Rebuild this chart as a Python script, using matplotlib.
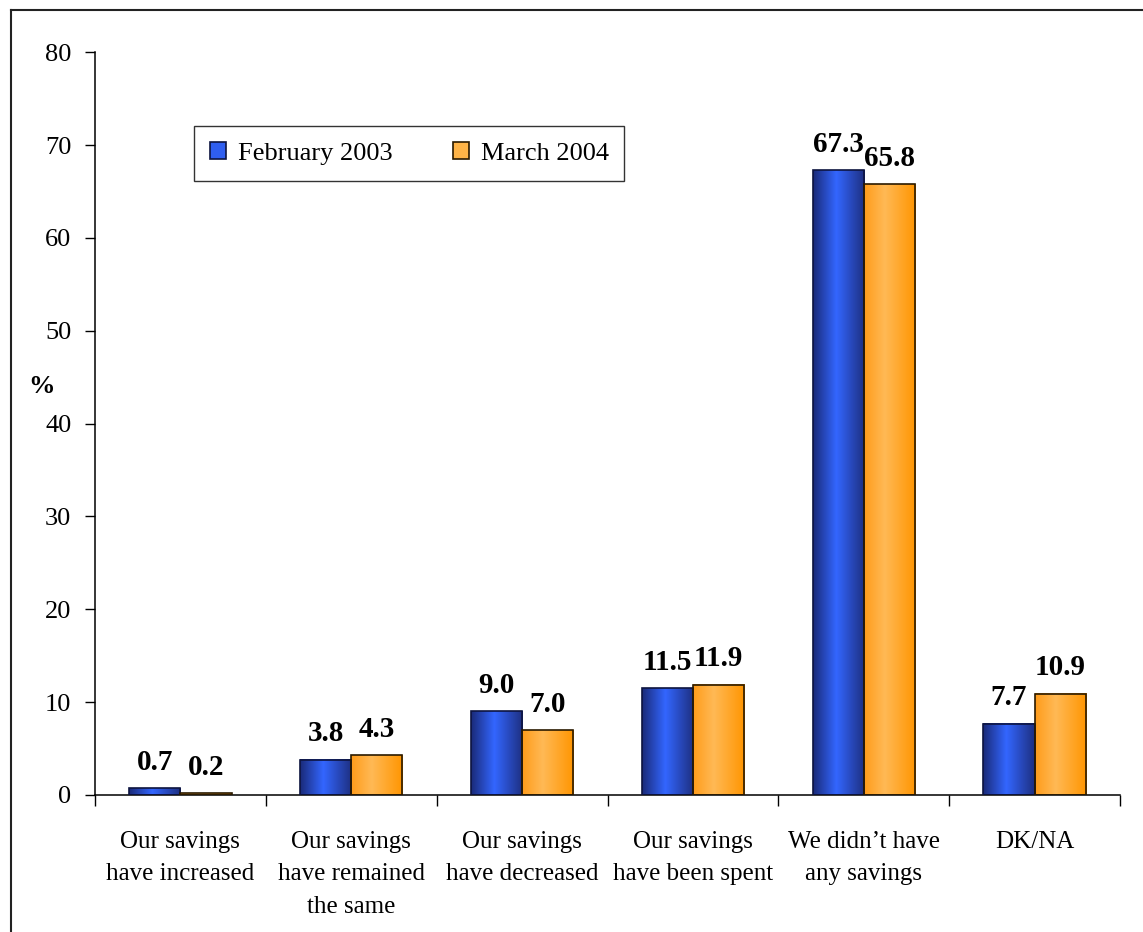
import numpy as np
import matplotlib
matplotlib.use("Agg")
import matplotlib.pyplot as plt
from matplotlib.colors import LinearSegmentedColormap
from matplotlib.patches import Rectangle, Patch
from matplotlib.lines import Line2D

categories = ["Our savings\nhave increased",
              "Our savings\nhave remained\nthe same",
              "Our savings\nhave decreased",
              "Our savings\nhave been spent",
              "We didn\u2019t have\nany savings",
              "DK/NA"]
feb_2003 = [0.7, 3.8, 9.0, 11.5, 67.3, 7.7]
mar_2004 = [0.2, 4.3, 7.0, 11.9, 65.8, 10.9]
series_names = ["February 2003", "March 2004"]
yticks = [0, 10, 20, 30, 40, 50, 60, 70, 80]

plt.rcParams["font.family"] = ["Liberation Serif", "DejaVu Serif"]

# horizontal shading for the bars (dark edges, bright band left of centre)
blue_cmap = LinearSegmentedColormap.from_list(
    "blue_bar", [(0, "#1a2a78"), (0.45, "#3366ff"), (1, "#1e2f80")])
orange_cmap = LinearSegmentedColormap.from_list(
    "orange_bar", [(0, "#ff9c1a"), (0.4, "#ffb955"), (1, "#ff9500")])

fig = plt.figure(figsize=(11.43, 9.32), dpi=100)
ax = fig.add_axes([0.0831, 0.147, 0.8968, 0.797])

x = np.arange(len(categories))
width = 0.30
grad = np.linspace(0, 1, 256).reshape(1, -1)

for vals, cmap, edge, off in [(feb_2003, blue_cmap, "#0d1440", -width / 2),
                              (mar_2004, orange_cmap, "#2a1a00", width / 2)]:
    for xi, v in zip(x, vals):
        x0 = xi + off - width / 2
        ax.imshow(grad, cmap=cmap, extent=[x0, x0 + width, 0, v],
                  aspect="auto", zorder=2, interpolation="bilinear")
        ax.add_patch(Rectangle((x0, 0), width, v, fill=False,
                               edgecolor=edge, linewidth=1.2, zorder=3))
        ax.annotate(f"{v:.1f}", (xi + off, v), xytext=(0, 9),
                    textcoords="offset points", ha="center", va="bottom",
                    fontsize=21, fontweight="bold", zorder=4)

ax.set_xlim(-0.5, len(categories) - 0.5)
ax.set_ylim(0, 80)
ax.set_yticks(yticks)
ax.tick_params(axis="y", labelsize=19, length=7, width=1, direction="out", pad=10)

ax.set_xticks(x)
ax.set_xticklabels(categories, fontsize=18, linespacing=1.6)
ax.set_xticks(np.arange(-0.5, len(categories)), minor=True)
ax.tick_params(axis="x", which="major", length=0, pad=26)
ax.tick_params(axis="x", which="minor", length=8, width=1, direction="out")

for s in ["top", "right"]:
    ax.spines[s].set_visible(False)
for s in ["left", "bottom"]:
    ax.spines[s].set_linewidth(1.1)

ax.set_ylabel("%", rotation=0, fontsize=19, fontweight="bold")
ax.yaxis.set_label_coords(-0.052, 0.535)

handles = [Patch(facecolor="#2f5ef0", edgecolor="#0d1440", linewidth=1.2),
           Patch(facecolor="#ffb447", edgecolor="#2a1a00", linewidth=1.2)]
leg = ax.legend(handles, series_names, loc="upper left",
                bbox_to_anchor=(0.0966, 0.90), ncol=2, fontsize=19,
                frameon=True, fancybox=False, framealpha=1,
                handlelength=0.6, handleheight=0.6, handletextpad=0.45,
                columnspacing=2.3, borderpad=0.6, borderaxespad=0)
leg.get_frame().set_edgecolor("#333333")
leg.get_frame().set_linewidth(1.0)

# outer chart border (left and top edges)
fig.add_artist(Line2D([0.0096, 0.0096], [0, 0.9893], transform=fig.transFigure,
                      color="#222222", linewidth=1.5))
fig.add_artist(Line2D([0.0096, 1.0], [0.9893, 0.9893], transform=fig.transFigure,
                      color="#222222", linewidth=1.5))

fig.savefig("out.png", dpi=100)
